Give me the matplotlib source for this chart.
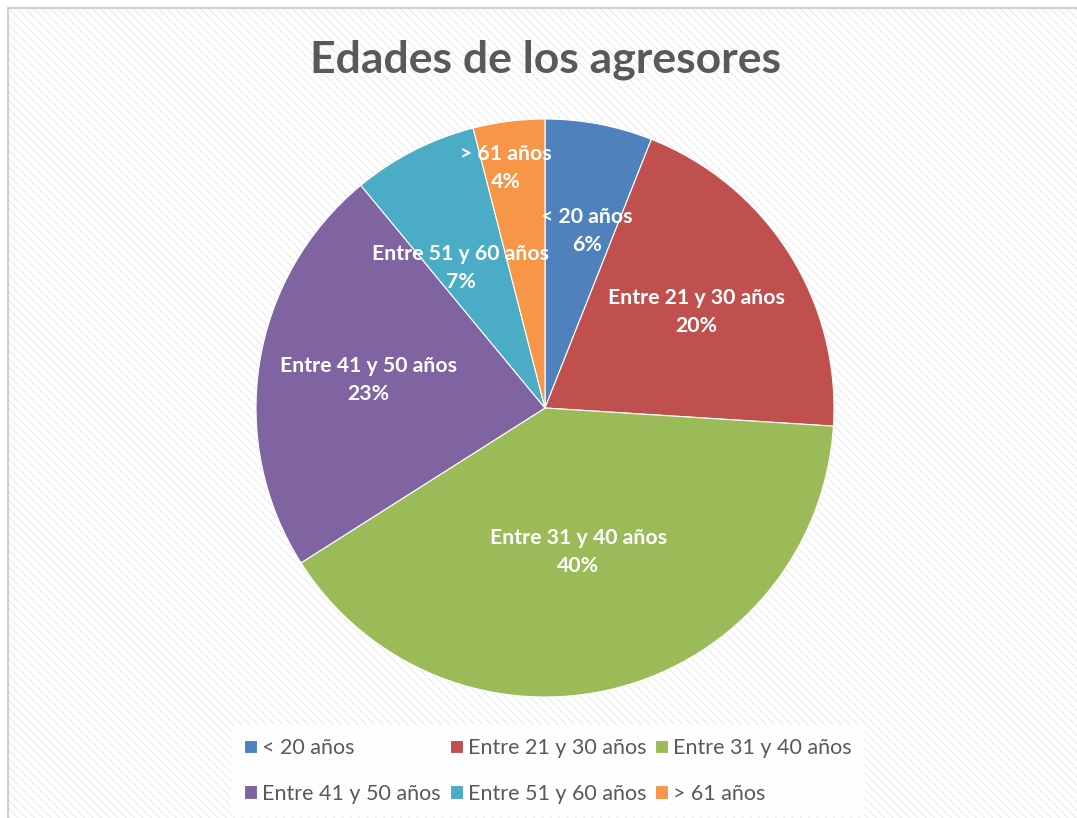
import numpy as np
import matplotlib.pyplot as plt
from matplotlib.patches import Rectangle

# datos
categorias = ["< 20 años", "Entre 21 y 30 años", "Entre 31 y 40 años",
              "Entre 41 y 50 años", "Entre 51 y 60 años", "> 61 años"]
porcentajes = [6, 20, 40, 23, 7, 4]
colores = ["#4f81bd", "#c0504d", "#9bbb59", "#8064a2", "#4bacc6", "#f79646"]
# posición de cada etiqueta: distancia (fracción del radio) y giro en grados
dist_etiquetas = [0.63, 0.62, 0.51, 0.62, 0.565, 0.84]
giro_etiquetas = [-2.5, 0, -1.4, 0, 4, 2]

plt.rcParams["font.family"] = ["Lato", "DejaVu Sans"]
plt.rcParams["hatch.linewidth"] = 1.0

fig = plt.figure(figsize=(10.77, 8.18), dpi=100)
fig.patch.set_facecolor("white")

# fondo rayado con borde
fondo = Rectangle((8 / 1077, -0.05), 1.1, 1 - 8 / 818 + 0.05,
                  transform=fig.transFigure, facecolor="white",
                  edgecolor="#eeeeee", linewidth=0, hatch="\\\\\\\\",
                  zorder=-5)
fig.patches.append(fondo)
borde = Rectangle((8 / 1077, -0.05), 1.1, 1 - 8 / 818 + 0.05,
                  transform=fig.transFigure, facecolor="none",
                  edgecolor="#d0d0d0", linewidth=1.5, zorder=-4)
fig.patches.append(borde)

fig.text(545 / 1077, 1 - 60 / 818, "Edades de los agresores", ha="center",
         va="center", fontsize=32, fontweight="bold", color="#595959")

r_px = 289
cx, cy = 545, 408
ax = fig.add_axes([(cx - r_px) / 1077, 1 - (cy + r_px) / 818,
                   2 * r_px / 1077, 2 * r_px / 818], zorder=2)
ax.patch.set_alpha(0)
wedges, _ = ax.pie(porcentajes, colors=colores, startangle=90,
                   counterclock=False, radius=1,
                   wedgeprops=dict(edgecolor="white", linewidth=0.8))
ax.set_xlim(-1, 1)
ax.set_ylim(-1, 1)
ax.set_aspect("auto")

for w, cat, p, d, g in zip(wedges, categorias, porcentajes,
                           dist_etiquetas, giro_etiquetas):
    ang = np.deg2rad((w.theta1 + w.theta2) / 2 + g)
    ax.text(d * np.cos(ang), d * np.sin(ang), f"{cat}\n{p}%",
            ha="center", va="center", color="white", fontsize=15.3,
            fontweight="bold", linespacing=1.5)

# orden por filas como en Excel
orden = [0, 3, 1, 4, 2, 5]
leg = fig.legend([wedges[i] for i in orden], [categorias[i] for i in orden],
                 loc="center", bbox_to_anchor=(548 / 1077, 1 - 771 / 818),
                 ncol=3, frameon=True, fontsize=15.5, handlelength=0.6,
                 handleheight=0.6, handletextpad=0.25, columnspacing=0.4,
                 labelspacing=1.2, borderpad=0.6)
leg.set_zorder(3)
leg.get_frame().set_facecolor("white")
leg.get_frame().set_edgecolor("none")
leg.get_frame().set_alpha(0.85)
for t in leg.get_texts():
    t.set_color("#595959")

fig.savefig("out.png", dpi=100)
